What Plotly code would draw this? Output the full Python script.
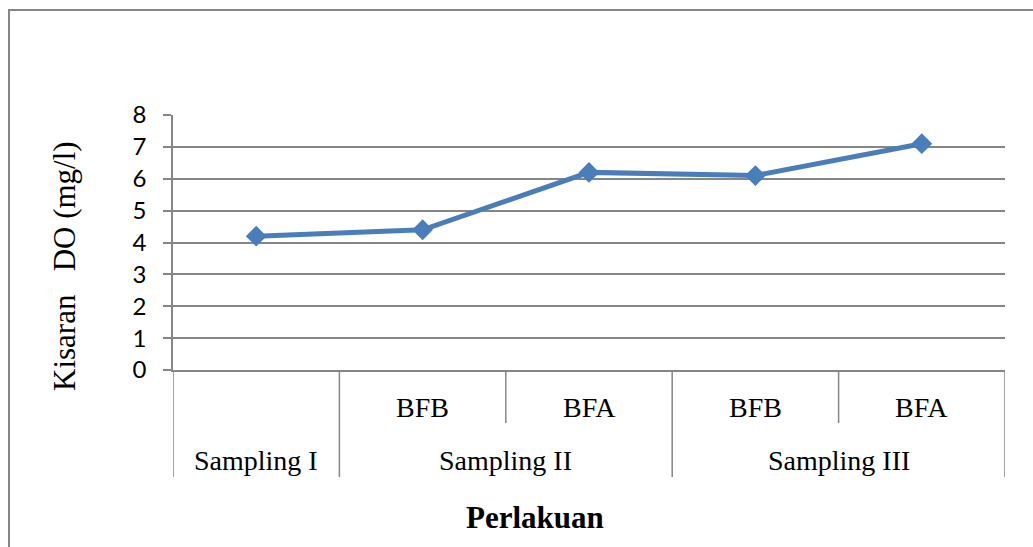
import plotly.graph_objects as go

# ---- data ----
groups = ["Sampling I", "Sampling II", "Sampling II", "Sampling III", "Sampling III"]
subs = ["", "BFB", "BFA", "BFB", "BFA"]
do_values = [4.2, 4.4, 6.2, 6.1, 7.1]
y_ticks = [0, 1, 2, 3, 4, 5, 6, 7, 8]
y_title = "Kisaran   DO (mg/l)"
x_title = "Perlakuan"

W, H = 1033, 547
L, R, T, B = 173, 28, 115, 177
PH = H - T - B
PW = W - L - R

def py(pix):  # pixel y -> paper y
    return (H - B - pix) / PH

def px(pix):  # pixel x -> paper x
    return (pix - L) / PW

GRAY = "#868686"
SERIF = "Liberation Serif, Times New Roman, serif"

n = len(do_values)
xs = [i + 0.5 for i in range(n)]

fig = go.Figure()
fig.add_trace(go.Scatter(
    x=xs, y=do_values, mode="lines+markers",
    line=dict(color="#4A7EBB", width=5),
    marker=dict(symbol="diamond", size=16, color="#4A7EBB"),
    showlegend=False, hoverinfo="skip",
))

shapes = []
annotations = []

# sub-category labels
for i, s in enumerate(subs):
    if s:
        annotations.append(dict(x=i + 0.5, y=py(407), xref="x", yref="paper",
                                xanchor="center", yanchor="middle",
                                text=s, showarrow=False,
                                font=dict(family=SERIF, size=28, color="black")))

# group spans
spans = []
start = 0
for i in range(1, n + 1):
    if i == n or groups[i] != groups[start]:
        spans.append((groups[start], start, i))
        start = i
group_edges = set()
for name, a, b in spans:
    annotations.append(dict(x=(a + b) / 2, y=py(460), xref="x", yref="paper",
                            xanchor="center", yanchor="middle",
                            text=name, showarrow=False,
                            font=dict(family=SERIF, size=28, color="black")))
    group_edges.add(a)
    group_edges.add(b)

for e in range(0, n + 1):
    bottom = py(477) if e in group_edges else py(423)
    shapes.append(dict(type="line", xref="x", yref="paper", x0=e, x1=e,
                       y0=0, y1=bottom, line=dict(color=GRAY, width=1.5)))

# axis titles
annotations.append(dict(x=px(64), y=py(266), xref="paper", yref="paper",
                        xanchor="center", yanchor="middle",
                        text=y_title, textangle=-90, showarrow=False,
                        font=dict(family=SERIF, size=31, color="black")))
annotations.append(dict(x=px(535), y=py(517), xref="paper", yref="paper",
                        xanchor="center", yanchor="middle",
                        text="<b>" + x_title + "</b>", showarrow=False,
                        font=dict(family=SERIF, size=31, color="black")))

# chart border
shapes.append(dict(type="rect", xref="paper", yref="paper",
                   x0=px(9), x1=px(1045), y0=py(10), y1=py(560),
                   line=dict(color=GRAY, width=2), layer="below"))

fig.update_layout(
    width=W, height=H,
    margin=dict(l=L, r=R, t=T, b=B),
    paper_bgcolor="white", plot_bgcolor="white",
    shapes=shapes, annotations=annotations,
    xaxis=dict(range=[0, n], showgrid=False, zeroline=False, showticklabels=False,
               showline=True, linecolor=GRAY, linewidth=1.5, ticks="", fixedrange=True),
    yaxis=dict(range=[0, 8], tickvals=y_ticks, showgrid=True, gridcolor=GRAY, gridwidth=1.5,
               zeroline=False, showline=True, linecolor=GRAY, linewidth=1.5,
               ticks="outside", ticklen=8, tickcolor=GRAY, tickwidth=1.5,
               ticklabelstandoff=12,
               tickfont=dict(family="Lato, Carlito, sans-serif", size=24, color="black"),
               fixedrange=True),
)

fig.write_html("out.html")
